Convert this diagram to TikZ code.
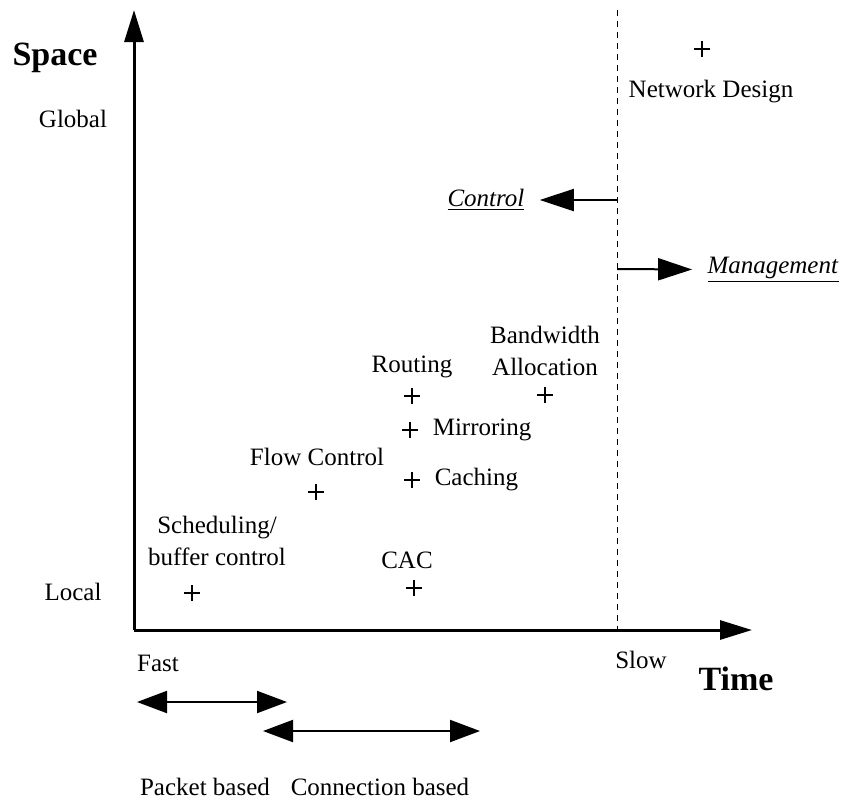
\documentclass[tikz,border=0pt]{standalone}
\usepackage{fontspec}
\setmainfont{Liberation Serif}
\usetikzlibrary{arrows.meta,positioning}

\begin{document}
\begin{tikzpicture}[x=0.5pt,y=-0.5pt,
  lbl/.style={font=\fontsize{12.5}{16}\selectfont, inner sep=0pt, align=center},
  big/.style={font=\fontsize{17}{20}\selectfont\bfseries, inner sep=0pt},
  pt/.style={inner sep=0pt, minimum size=8pt,
    path picture={\draw[line width=1.1pt]
      (path picture bounding box.north) -- (path picture bounding box.south)
      (path picture bounding box.west) -- (path picture bounding box.east);}},
  axis/.style={line width=1.5pt, -{Triangle[length=16pt,width=9.5pt]}},
  span/.style={line width=1pt, {Triangle[length=15pt,width=11pt]}-{Triangle[length=15pt,width=11pt]}},
  side/.style={line width=1pt, -{Triangle[length=17pt,width=11pt]}}]
\useasboundingbox (0,0) rectangle (845,799);
% axes
\coordinate (O) at (134,630);
\coordinate (ytop) at (134,10);
\coordinate (xend) at (752,630);
\draw[axis] (O) -- (ytop);
\draw[axis] (O) -- (xend);
\node[big] (space) at (55,58) {Space};
\node[big] (time) at (736,679) {Time};
\node[lbl] (global) at (73,119) {Global};
\node[lbl] (local) at (73,592) {Local};
\node[lbl] (fast) at (158,663) {Fast};
\node[lbl] (slow) at (641,660) {Slow};
% control / management split
\coordinate (dtop) at (617,10);
\coordinate (dbot) at (617,630);
\draw[dashed, dash pattern=on 3pt off 2.5pt, line width=0.5pt] (dtop) -- (dbot);
\node[lbl] (control) at (486,200) {\underline{\textit{Control}}};
\node[lbl] (mgmt) at (773,270) {\underline{\textit{Management}}};
\coordinate (cfrom) at (617,200);
\coordinate (mfrom) at (617,269);
\draw[side, shorten >=7.5pt] (cfrom) -- (control);
\draw[side, shorten >=7.5pt] (mfrom) -- (mgmt);
% functions
\node[pt] (ndpt) at (702,49) {};
\node[lbl] (nd) at (711,92) {Network Design};
\node[pt] (bwpt) at (545,395) {};
\node[lbl] (bw) at (545,351) {Bandwidth\\Allocation};
\node[pt] (rtpt) at (412,396) {};
\node[lbl] (rt) at (412,367) {Routing};
\node[pt] (mirpt) at (410,430) {};
\node[lbl] (mir) [right=7pt of mirpt] {Mirroring};
\node[pt] (cachpt) at (412,480) {};
\node[lbl] (cach) [right=7pt of cachpt] {Caching};
\node[pt] (fcpt) at (316,492) {};
\node[lbl] (fc) at (317,457) {Flow Control};
\node[pt] (schedpt) at (192,593) {};
\node[lbl] (sched) at (217,541) {Scheduling/\\buffer control};
\node[pt] (cacpt) at (414,588) {};
\node[lbl] (cac) at (407,560) {CAC};
% time scales
\coordinate (pkl) at (137,702);
\coordinate (pkr) at (287,702);
\coordinate (cnl) at (263,731);
\coordinate (cnr) at (480,731);
\draw[span] (pkl) -- (pkr);
\draw[span] (cnl) -- (cnr);
\node[lbl] (pk) at (205,787) {Packet based};
\node[lbl] (cn) at (380,787) {Connection based};
\end{tikzpicture}
\end{document}
